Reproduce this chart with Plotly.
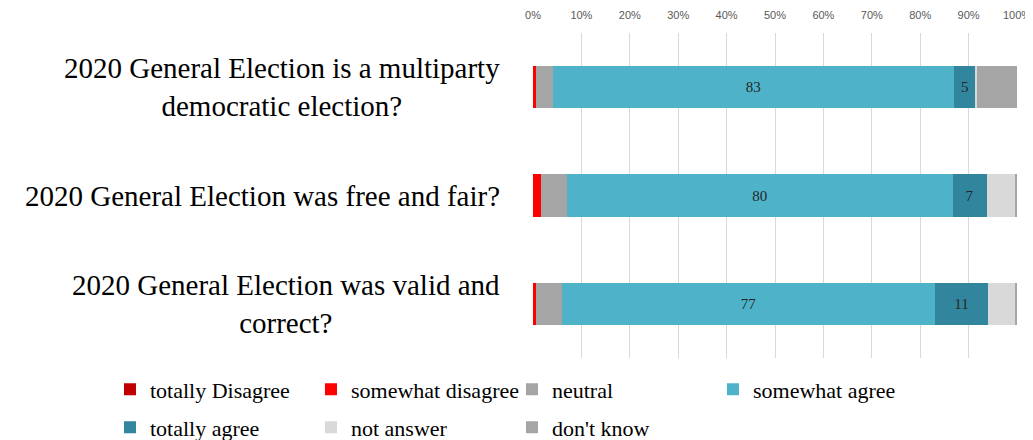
import plotly.graph_objects as go

categories = [
    "2020 General Election is a multiparty<br>democratic election?",
    "2020 General Election was free and fair?",
    "2020 General Election was valid and<br>correct?",
]
cat_keys = ["Q1", "Q2", "Q3"]

series_names = ["totally Disagree", "somewhat disagree", "neutral", "somewhat agree",
                "totally agree", "not answer", "don't know"]
totally_disagree = [0.0, 0.0, 0.0]
somewhat_disagree = [0.7, 1.7, 0.7]
neutral = [3.4, 5.3, 5.2]
somewhat_agree = [82.8, 79.7, 77.2]
totally_agree = [4.6, 7.0, 10.9]
not_answer = [0.2, 6.0, 5.7]
dont_know = [8.3, 0.3, 0.3]
x_ticks = [0, 10, 20, 30, 40, 50, 60, 70, 80, 90, 100]
x_tick_labels = [f"{t}%" for t in x_ticks]

values = [totally_disagree, somewhat_disagree, neutral, somewhat_agree,
          totally_agree, not_answer, dont_know]
colors = ["#C00000", "#FF0000", "#A5A5A5", "#4EB3C8", "#31859C", "#D9D9D9", "#A5A5A5"]
labelled = {"somewhat agree", "totally agree"}
legend_of = ["legend", "legend", "legend", "legend", "legend2", "legend2", "legend2"]

SERIF = "Liberation Serif, Times New Roman, serif"

fig = go.Figure()
for name, vals, col, lg in zip(series_names, values, colors, legend_of):
    show_text = name in labelled
    fig.add_trace(go.Bar(
        y=cat_keys, x=vals, name=name, orientation="h",
        marker=dict(color=col, line=dict(width=0)),
        text=[f"{v:.0f}" for v in vals] if show_text else None,
        textposition="inside" if show_text else "none",
        insidetextanchor="middle",
        textangle=0,
        textfont=dict(family=SERIF, size=15, color="#262626"),
        legend=lg,
        hoverinfo="x+name",
    ))

annotations = []
for key, lab in zip(cat_keys, categories):
    annotations.append(dict(
        x=0, xref="paper", y=key, yref="y", text=lab, showarrow=False,
        xanchor="right", yanchor="middle", align="center", xshift=-31,
        font=dict(family=SERIF, size=29, color="#000000"),
    ))

legend_common = dict(
    orientation="h", xanchor="left", yanchor="middle",
    entrywidth=156, entrywidthmode="pixels",
    font=dict(family=SERIF, size=22, color="#000000"),
    bgcolor="rgba(0,0,0,0)", traceorder="normal",
)

# the page body adds an 8px offset, so the figure is 8px smaller on each axis
fig.update_layout(
    template="none",
    width=1025, height=432,
    margin=dict(l=525, r=16, t=25, b=82, autoexpand=False),
    paper_bgcolor="white", plot_bgcolor="white",
    barmode="stack", bargap=0.612,
    showlegend=True,
    legend=dict(x=-0.874, y=-0.097, **legend_common),
    legend2=dict(x=-0.874, y=-0.214, **legend_common),
    annotations=annotations,
    xaxis=dict(
        range=[0, 100], side="top", tickvals=x_ticks, ticktext=x_tick_labels,
        showgrid=True, gridcolor="#D9D9D9", gridwidth=1, zeroline=False,
        showline=False, ticks="", automargin=False, ticklabelstandoff=11,
        tickfont=dict(family="Liberation Sans, Arial, sans-serif", size=11, color="#595959"),
    ),
    yaxis=dict(
        autorange="reversed", showticklabels=False, showgrid=False,
        zeroline=False, showline=False, ticks="", automargin=False,
    ),
)

fig.write_html("out.html")
